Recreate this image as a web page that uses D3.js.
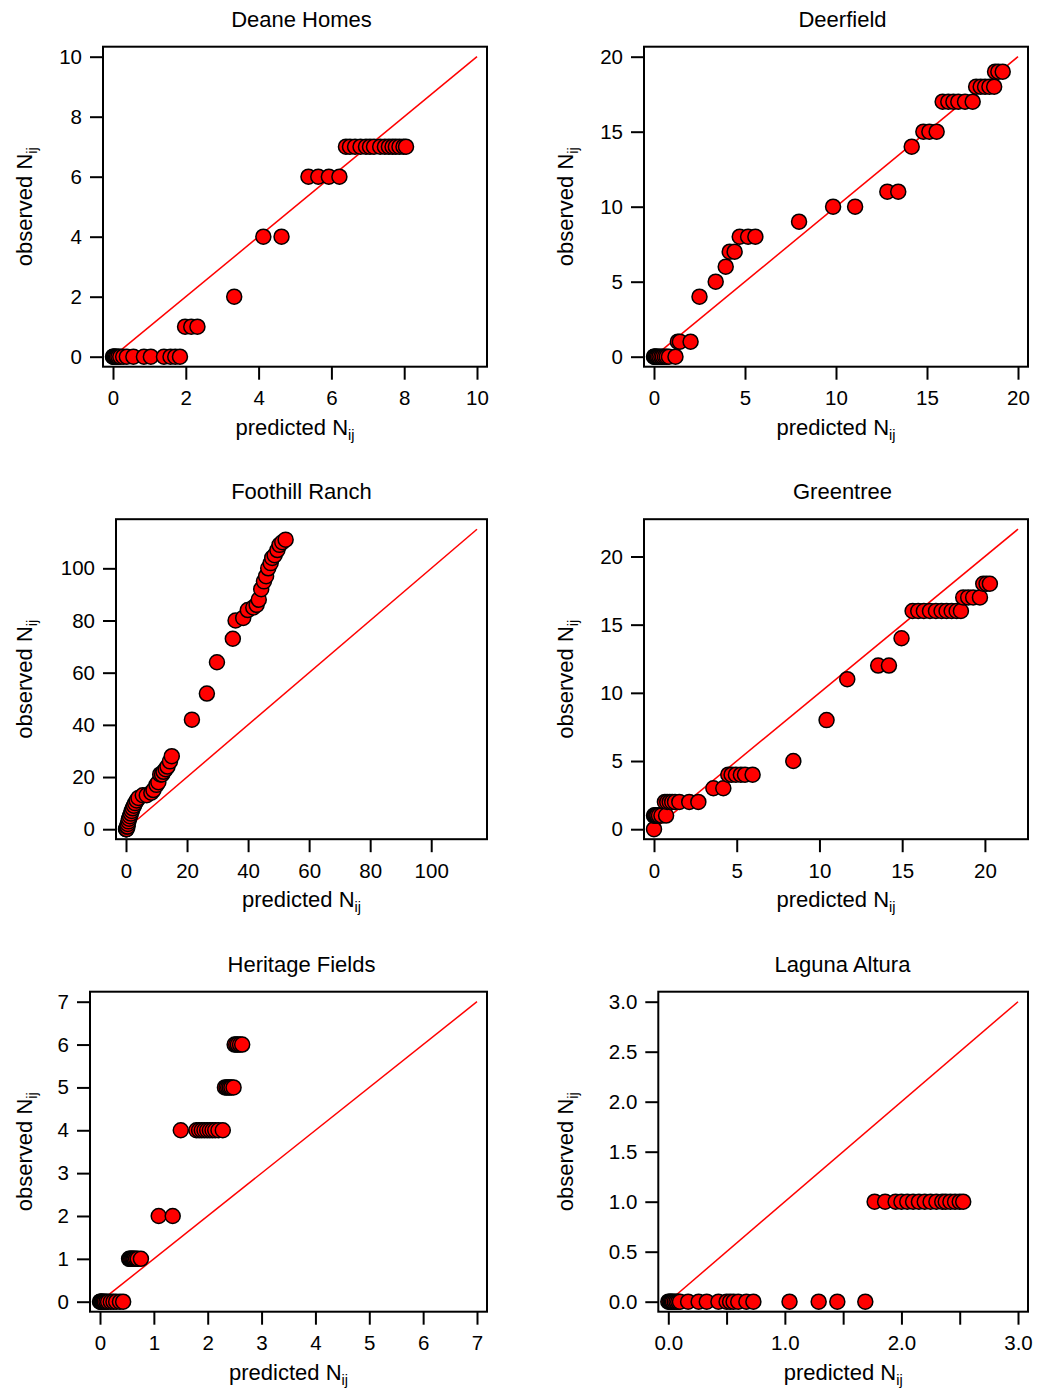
<!DOCTYPE html>
<html>
<head>
<meta charset="utf-8">
<script src="https://cdn.jsdelivr.net/npm/d3@7"></script>
<style>
body { margin: 0; background: #fff; }
svg text { font-family: "Liberation Sans", Arial, Helvetica, sans-serif; fill: #000; }
</style>
</head>
<body>
<script>
// panel titles, axis extents and ticks
var TITLES = ["Deane Homes", "Deerfield", "Foothill Ranch", "Greentree", "Heritage Fields", "Laguna Altura"];
var AXIS_MAX = [10, 20, 115, 22, 7, 3];
var X_TICKS = [
    [0, 2, 4, 6, 8, 10],
    [0, 5, 10, 15, 20],
    [0, 20, 40, 60, 80, 100],
    [0, 5, 10, 15, 20],
    [0, 1, 2, 3, 4, 5, 6, 7],
    [0, 0.5, 1, 1.5, 2, 2.5, 3]
];
var Y_TICKS = [
    [0, 2, 4, 6, 8, 10],
    [0, 5, 10, 15, 20],
    [0, 20, 40, 60, 80, 100],
    [0, 5, 10, 15, 20],
    [0, 1, 2, 3, 4, 5, 6, 7],
    [0, 0.5, 1, 1.5, 2, 2.5, 3]
];

// [predicted, observed]
var deaneHomes = [
    [0, 0], [0.01, 0], [0.03, 0], [0.05, 0], [0.08, 0], [0.11, 0], [0.15, 0], [0.2, 0], [0.28, 0],
    [0.38, 0], [0.56, 0], [0.85, 0], [1.04, 0], [1.4, 0], [1.58, 0], [1.71, 0], [1.84, 0],
    [1.98, 1], [2.15, 1], [2.32, 1],
    [3.33, 2],
    [4.13, 4], [4.63, 4],
    [5.37, 6], [5.64, 6], [5.93, 6], [6.22, 6],
    [6.4, 7], [6.51, 7], [6.65, 7], [6.8, 7], [6.95, 7], [7.06, 7], [7.17, 7], [7.34, 7],
    [7.47, 7], [7.58, 7], [7.68, 7], [7.77, 7], [7.87, 7], [7.98, 7], [8.05, 7]
];
var deerfield = [
    [0, 0], [0.02, 0], [0.05, 0], [0.1, 0], [0.15, 0], [0.22, 0], [0.3, 0], [0.4, 0], [0.49, 0],
    [0.6, 0], [0.7, 0], [0.82, 0], [1.18, 0],
    [1.31, 1], [1.42, 1], [2.01, 1],
    [2.5, 4], [3.39, 5], [3.94, 6], [4.16, 7], [4.43, 7],
    [4.71, 8], [5.17, 8], [5.57, 8],
    [7.97, 9], [9.84, 10], [11.05, 10], [12.82, 11], [13.42, 11], [14.16, 14],
    [14.8, 15], [15.13, 15], [15.53, 15],
    [15.86, 17], [16.17, 17], [16.45, 17], [16.72, 17], [17.09, 17], [17.51, 17],
    [17.7, 18], [17.95, 18], [18.19, 18], [18.43, 18], [18.69, 18],
    [18.74, 19], [18.92, 19], [19.16, 19]
];
var foothillRanch = [
    [0, 0], [0.1, 0], [0.2, 0], [0.3, 1], [0.5, 1], [0.6, 2], [0.8, 3], [1.0, 4], [1.3, 5],
    [1.6, 6], [1.9, 7], [2.2, 8], [2.6, 9], [3.0, 10], [3.5, 11], [4.1, 12], [5.5, 13],
    [6.8, 13], [8.3, 14], [9.0, 15], [10.0, 17], [10.6, 18], [11.2, 21], [11.8, 21],
    [12.3, 22], [13.0, 23], [13.6, 24], [14.4, 26], [15.0, 28],
    [21.6, 42], [26.5, 52], [29.8, 64], [35.0, 73], [35.9, 80], [38.4, 81], [39.9, 84],
    [41.7, 85], [42.8, 86], [43.5, 88], [44.3, 92], [45.2, 95], [45.9, 97], [46.6, 100],
    [47.4, 102], [47.9, 104], [48.7, 105], [49.6, 107], [50.3, 109], [51.2, 110], [52.3, 111]
];
var greentree = [
    [0, 0],
    [0, 1], [0.03, 1], [0.08, 1], [0.14, 1], [0.2, 1], [0.3, 1], [0.45, 1],
    [0.66, 2], [0.73, 1], [0.8, 2], [0.95, 2], [1.1, 2], [1.27, 2], [1.53, 2], [2.13, 2], [2.68, 2],
    [3.59, 3], [4.19, 3],
    [4.49, 4], [4.69, 4], [4.95, 4], [5.25, 4], [5.5, 4], [5.96, 4],
    [8.42, 5], [10.43, 8], [11.68, 11], [13.55, 12], [14.2, 12], [14.96, 14],
    [15.63, 16], [15.97, 16], [16.31, 16], [16.68, 16], [17.04, 16], [17.38, 16], [17.68, 16],
    [17.99, 16], [18.29, 16], [18.55, 16],
    [18.69, 17], [18.99, 17], [19.29, 17], [19.7, 17],
    [19.9, 18], [20.1, 18], [20.3, 18]
];
var heritageFields = [
    [0, 0], [0.01, 0], [0.02, 0], [0.03, 0], [0.05, 0], [0.07, 0], [0.09, 0], [0.12, 0], [0.15, 0],
    [0.2, 0], [0.25, 0], [0.3, 0], [0.37, 0], [0.43, 0],
    [0.54, 1], [0.56, 1], [0.58, 1], [0.6, 1], [0.62, 1], [0.64, 1], [0.67, 1], [0.7, 1], [0.76, 1],
    [1.09, 2], [1.35, 2],
    [1.5, 4], [1.79, 4], [1.84, 4], [1.89, 4], [1.94, 4], [1.99, 4], [2.04, 4], [2.09, 4], [2.14, 4],
    [2.2, 4], [2.28, 4],
    [2.32, 5], [2.35, 5], [2.38, 5], [2.41, 5], [2.44, 5], [2.48, 5],
    [2.5, 6], [2.53, 6], [2.56, 6], [2.6, 6], [2.64, 6]
];
var lagunaAltura = [
    [0, 0], [0.01, 0], [0.02, 0], [0.03, 0], [0.04, 0], [0.055, 0], [0.07, 0], [0.085, 0], [0.1, 0],
    [0.17, 0], [0.26, 0], [0.33, 0], [0.43, 0], [0.5, 0], [0.53, 0], [0.56, 0], [0.6, 0], [0.67, 0],
    [0.73, 0], [1.04, 0], [1.29, 0], [1.45, 0], [1.69, 0],
    [1.77, 1], [1.86, 1], [1.95, 1], [2.0, 1], [2.05, 1], [2.1, 1], [2.15, 1], [2.2, 1], [2.25, 1],
    [2.3, 1], [2.35, 1], [2.38, 1], [2.42, 1], [2.46, 1], [2.5, 1], [2.53, 1]
];
var PANEL_DATA = [deaneHomes, deerfield, foothillRanch, greentree, heritageFields, lagunaAltura];

// layout
var W = 1038, H = 1391;
var COL_X = [0, 541];
var ROW_Y = [56.7, 529.2, 1001.7];
var LEFT_EDGE = [113, 113, 126, 113, 100, 127.3];
var DATA_RIGHT = 477;
var DATA_H = 300;
var PAD = 10;
var RADIUS = 7.5;

var svg = d3.select("body")
    .append("svg")
    .attr("width", W)
    .attr("height", H)
    .style("display", "block");

svg.append("rect").attr("width", W).attr("height", H).attr("fill", "#fff");

function fmtX(i) {
    if (i == 5) return function(d) { return Number.isInteger(d) ? d.toFixed(1) : ""; };
    return d3.format("d");
}
function fmtY(i) {
    if (i == 5) return function(d) { return d.toFixed(1); };
    return d3.format("d");
}

PANEL_DATA.forEach(function(points, i) {
    var col = i % 2, row = Math.floor(i / 2);
    var x0 = COL_X[col] + LEFT_EDGE[i];
    var x1 = COL_X[col] + DATA_RIGHT;
    var yTop = ROW_Y[row];
    var yBot = yTop + DATA_H;

    var x = d3.scaleLinear().domain([0, AXIS_MAX[i]]).range([x0, x1]);
    var y = d3.scaleLinear().domain([0, AXIS_MAX[i]]).range([yBot, yTop]);

    var g = svg.append("g").attr("class", "panel");

    // frame
    g.append("rect")
        .attr("x", x0 - PAD)
        .attr("y", yTop - PAD)
        .attr("width", x1 - x0 + 2 * PAD)
        .attr("height", DATA_H + 2 * PAD)
        .attr("fill", "none")
        .attr("stroke", "#000")
        .attr("stroke-width", 2);

    // axes
    var xAxis = g.append("g")
        .attr("transform", "translate(0," + (yBot + PAD) + ")")
        .call(d3.axisBottom(x).tickValues(X_TICKS[i]).tickSize(13).tickPadding(11).tickFormat(fmtX(i)));
    var yAxis = g.append("g")
        .attr("transform", "translate(" + (x0 - PAD) + ",0)")
        .call(d3.axisLeft(y).tickValues(Y_TICKS[i]).tickSize(13).tickPadding(8).tickFormat(fmtY(i)));
    [xAxis, yAxis].forEach(function(a) {
        a.select(".domain").remove();
        a.selectAll(".tick line").attr("stroke", "#000").attr("stroke-width", 2);
        a.selectAll(".tick text").attr("font-size", 20.5).attr("font-family", null).attr("fill", "#000");
    });

    // 1:1 line
    g.append("line")
        .attr("x1", x(0)).attr("y1", y(0))
        .attr("x2", x(AXIS_MAX[i])).attr("y2", y(AXIS_MAX[i]))
        .attr("stroke", "#ff0000")
        .attr("stroke-width", 1.5);

    // points
    g.selectAll("circle")
        .data(points)
        .enter().append("circle")
        .attr("cx", function(d) { return x(d[0]); })
        .attr("cy", function(d) { return y(d[1]); })
        .attr("r", RADIUS)
        .attr("fill", "#ff0000")
        .attr("stroke", "#000")
        .attr("stroke-width", 1.5);

    // title
    g.append("text")
        .attr("x", COL_X[col] + 301.5)
        .attr("y", yTop - PAD - 20)
        .attr("text-anchor", "middle")
        .attr("font-size", 22)
        .text(TITLES[i]);

    // x label
    var xl = g.append("text")
        .attr("x", (x0 + x1) / 2)
        .attr("y", yBot + PAD + 68)
        .attr("text-anchor", "middle")
        .attr("font-size", 22);
    xl.append("tspan").text("predicted N");
    xl.append("tspan").attr("font-size", 14.5).attr("dy", 5).text("ij");

    // y label
    var yl = g.append("text")
        .attr("transform", "translate(" + (COL_X[col] + 32) + "," + (yTop + DATA_H / 2) + ") rotate(-90)")
        .attr("text-anchor", "middle")
        .attr("font-size", 22);
    yl.append("tspan").text("observed N");
    yl.append("tspan").attr("font-size", 14.5).attr("dy", 5).text("ij");
});
</script>
</body>
</html>
